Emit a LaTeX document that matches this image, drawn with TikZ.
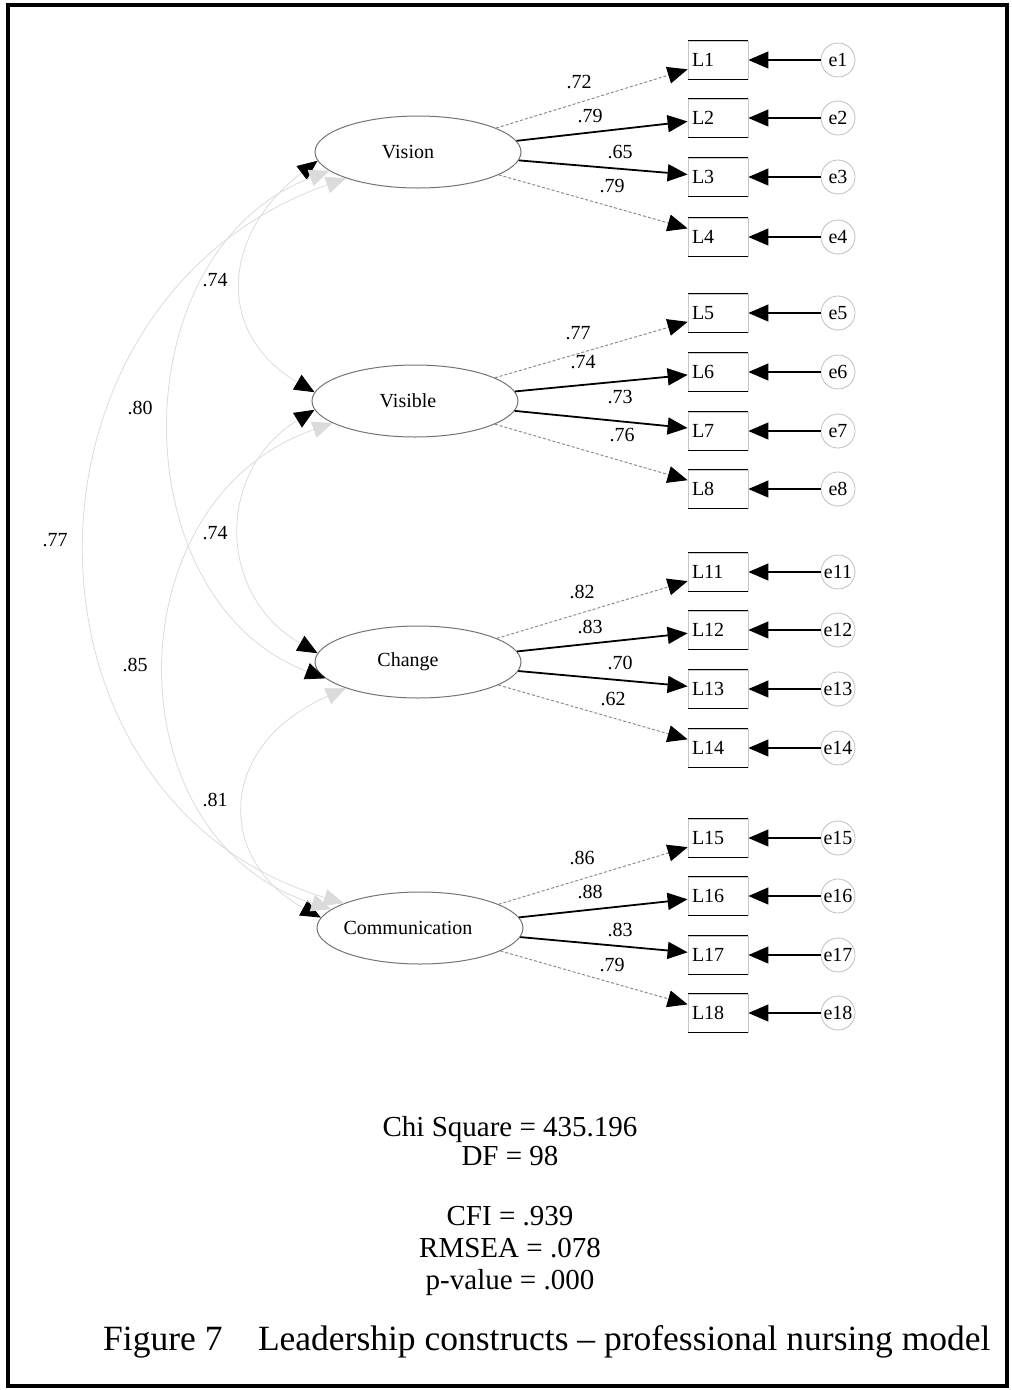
\documentclass[tikz,border=0pt]{standalone}
\usepackage{fontspec}
\setmainfont{Liberation Serif}
\usetikzlibrary{arrows.meta,shapes.geometric}
\tikzset{
  txt/.style={font=\fontsize{20}{24}\selectfont, inner sep=0pt},
  fac/.style={ellipse, draw=black!55, line width=1pt, minimum width=206pt, minimum height=72pt, inner sep=0pt, font=\fontsize{20}{24}\selectfont},
  ind/.style={rectangle, draw=black!22, line width=0.8pt, minimum width=60pt, minimum height=38pt, text width=52pt, inner xsep=4pt, inner ysep=0pt, align=left, font=\fontsize{20}{24}\selectfont},
  edge/.style={line width=1.3pt, black},
  errc/.style={circle, draw=black!25, line width=0.8pt, minimum size=34pt, inner sep=0pt, font=\fontsize{20}{24}\selectfont},
  tip/.style={-{Triangle[length=20pt,width=17pt,color=black]}},
  loadS/.style={tip, line width=1.8pt, black},
  loadF/.style={tip, line width=1pt, black!45, densely dashed},
  errA/.style={tip, line width=1.2pt, black},
  cov/.style={line width=0.8pt, black!14},
  covBB/.style={arrows={Triangle[length=20pt,width=17pt,color=black]-Triangle[length=20pt,width=17pt,color=black]}},
  covFB/.style={arrows={Triangle[length=20pt,width=17pt]-Triangle[length=20pt,width=17pt,color=black]}},
  covFF/.style={arrows={Triangle[length=20pt,width=17pt]-Triangle[length=20pt,width=17pt]}},
  stat/.style={font=\fontsize{29}{32}\selectfont, inner sep=0pt, anchor=base},
}
\begin{document}
\begin{tikzpicture}[x=1pt,y=-1pt]
\useasboundingbox (0,0) rectangle (1012,1390);
\draw[line width=4pt] (8,5) rectangle (1007,1386);

% factors
\node[fac] (vision) at (418,152) {\hspace*{-20pt}Vision};
\node[fac] (visible) at (415,401) {\hspace*{-14pt}Visible};
\node[fac] (change) at (418,662) {\hspace*{-20pt}Change};
\node[fac] (comm) at (420,928) {\hspace*{-24pt}Communication};

% indicators and errors
\foreach \n/\y in {1/60,2/118,3/177,4/237,5/313,6/372,7/431,8/489,11/572,12/630,13/689,14/748,15/838,16/896,17/955,18/1013}{
  \node[ind] (L\n) at (718,\y) {L\n};
  \draw[edge] (L\n.north west) -- (L\n.north east);
  \draw[edge] (L\n.south west) -- (L\n.south east);
  \node[errc] (e\n) at (838,\y) {e\n};
  \draw[errA] (e\n) -- (L\n);
}

% loadings
\draw[loadF] (vision) -- (L1);
\draw[loadS] (vision) -- (L2);
\draw[loadS] (vision) -- (L3);
\draw[loadF] (vision) -- (L4);
\draw[loadF] (visible) -- (L5);
\draw[loadS] (visible) -- (L6);
\draw[loadS] (visible) -- (L7);
\draw[loadF] (visible) -- (L8);
\draw[loadF] (change) -- (L11);
\draw[loadS] (change) -- (L12);
\draw[loadS] (change) -- (L13);
\draw[loadF] (change) -- (L14);
\draw[loadF] (comm) -- (L15);
\draw[loadS] (comm) -- (L16);
\draw[loadS] (comm) -- (L17);
\draw[loadF] (comm) -- (L18);

% loading labels
\node[txt] (w1) at (579,82) {.72};
\node[txt] (w2) at (590,116) {.79};
\node[txt] (w3) at (620,152) {.65};
\node[txt] (w4) at (612,186) {.79};
\node[txt] (w5) at (578,333) {.77};
\node[txt] (w6) at (583,362) {.74};
\node[txt] (w7) at (620,397) {.73};
\node[txt] (w8) at (622,435) {.76};
\node[txt] (w11) at (582,592) {.82};
\node[txt] (w12) at (590,627) {.83};
\node[txt] (w13) at (620,663) {.70};
\node[txt] (w14) at (613,699) {.62};
\node[txt] (w15) at (582,858) {.86};
\node[txt] (w16) at (590,892) {.88};
\node[txt] (w17) at (620,930) {.83};
\node[txt] (w18) at (612,965) {.79};

% covariances
\draw[cov,covBB] (vision.185) .. controls (220,235) and (216,335) .. (visible.175);
\draw[cov,covBB] (visible.185) .. controls (216,470) and (216,595) .. (change.175);
\draw[cov,covFB] (change.200) .. controls (216,745) and (216,860) .. (comm.174);
\draw[cov,covFB] (vision.192) .. controls (119,250) and (119,600) .. (change.190);
\draw[cov,covFF] (visible.195) .. controls (111,500) and (111,840) .. (comm.168);
\draw[cov,covFF] (vision.200) .. controls (1,300) and (1,800) .. (comm.162);

\node[txt] (c1) at (215,280) {.74};
\node[txt] (c2) at (215,533) {.74};
\node[txt] (c3) at (215,800) {.81};
\node[txt] (c4) at (140,408) {.80};
\node[txt] (c5) at (135,665) {.85};
\node[txt] (c6) at (55,540) {.77};

% statistics
\node[stat] (s1) at (510,1136) {Chi Square = 435.196};
\node[stat] (s2) at (510,1165) {DF = 98};
\node[stat] (s3) at (510,1225) {CFI = .939};
\node[stat] (s4) at (510,1257) {RMSEA = .078};
\node[stat] (s5) at (510,1289) {p-value = .000};
\node[font=\fontsize{35.5}{40}\selectfont, inner sep=0pt, anchor=base west] (cap) at (103,1350) {Figure 7\hspace{1em}Leadership constructs -- professional nursing model};
\end{tikzpicture}
\end{document}
